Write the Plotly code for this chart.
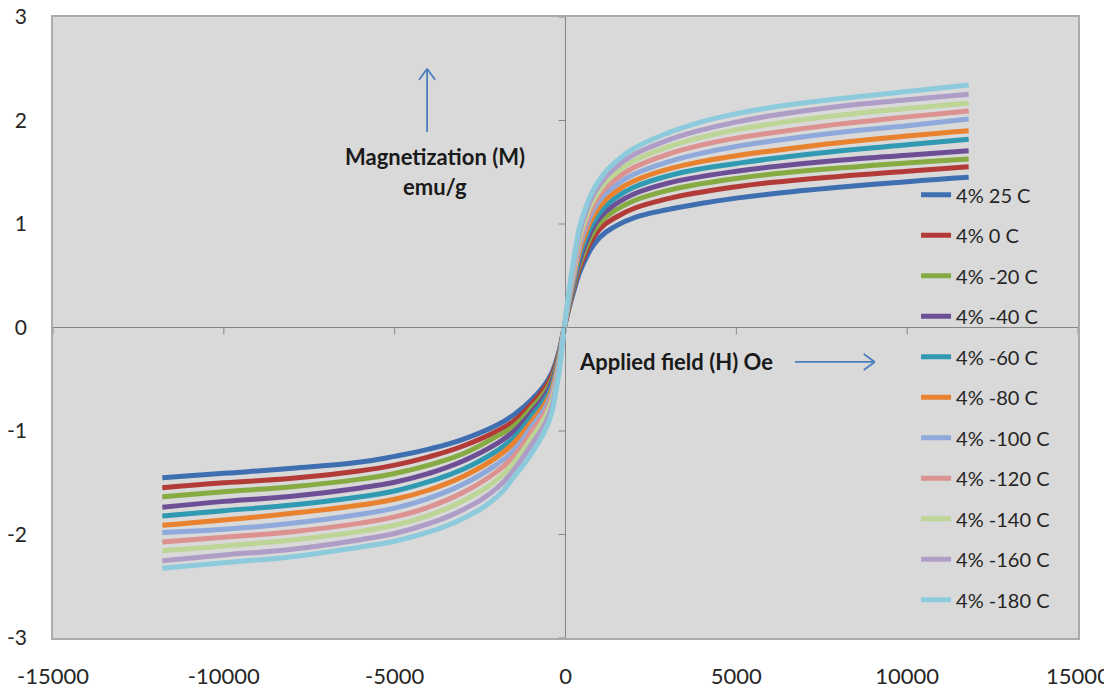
import plotly.graph_objects as go

# Applied field (Oe)
H = [-11800, -10000, -8000, -6000, -5000, -4000, -3000, -2000, -1500, -1000, -500, -250, 0,
     250, 500, 1000, 1500, 2000, 3000, 4000, 5000, 6000, 8000, 10000, 11800]

names = ["4% 25 C", "4% 0 C", "4% -20 C", "4% -40 C", "4% -60 C", "4% -80 C",
         "4% -100 C", "4% -120 C", "4% -140 C", "4% -160 C", "4% -180 C"]

m_25 = [-1.451, -1.409, -1.361, -1.30, -1.245, -1.175, -1.08, -0.942, -0.84, -0.70, -0.50, -0.30, 0.05,
        0.36, 0.60, 0.87, 0.985, 1.06, 1.14, 1.20, 1.25, 1.29, 1.354, 1.409, 1.451]
m_0 = [-1.548, -1.50, -1.457, -1.385, -1.33, -1.25, -1.145, -1.0, -0.90, -0.74, -0.53, -0.32, 0.05,
       0.39, 0.65, 0.95, 1.07, 1.15, 1.245, 1.31, 1.36, 1.40, 1.46, 1.51, 1.554]
m_m20 = [-1.635, -1.586, -1.538, -1.465, -1.41, -1.33, -1.22, -1.05, -0.95, -0.78, -0.57, -0.34, 0.06,
         0.41, 0.69, 1.01, 1.14, 1.225, 1.325, 1.39, 1.44, 1.48, 1.54, 1.59, 1.628]
m_m40 = [-1.737, -1.68, -1.63, -1.55, -1.495, -1.41, -1.29, -1.12, -1.00, -0.82, -0.60, -0.36, 0.06,
         0.43, 0.73, 1.06, 1.20, 1.29, 1.395, 1.46, 1.51, 1.55, 1.615, 1.665, 1.708]
m_m60 = [-1.821, -1.77, -1.715, -1.635, -1.58, -1.49, -1.37, -1.19, -1.06, -0.86, -0.64, -0.38, 0.07,
         0.46, 0.78, 1.11, 1.26, 1.355, 1.465, 1.535, 1.585, 1.63, 1.705, 1.765, 1.818]
m_m80 = [-1.911, -1.86, -1.795, -1.715, -1.66, -1.57, -1.44, -1.25, -1.11, -0.91, -0.68, -0.40, 0.07,
         0.49, 0.83, 1.17, 1.32, 1.415, 1.53, 1.605, 1.66, 1.705, 1.785, 1.85, 1.90]
m_m100 = [-1.98, -1.95, -1.892, -1.805, -1.745, -1.65, -1.515, -1.32, -1.18, -0.96, -0.72, -0.43, 0.08,
          0.52, 0.88, 1.23, 1.38, 1.48, 1.60, 1.685, 1.75, 1.80, 1.885, 1.95, 2.014]
m_m120 = [-2.072, -2.027, -1.973, -1.89, -1.83, -1.735, -1.595, -1.39, -1.24, -1.01, -0.76, -0.46, 0.08,
          0.55, 0.92, 1.28, 1.44, 1.545, 1.675, 1.765, 1.83, 1.88, 1.965, 2.035, 2.092]
m_m140 = [-2.156, -2.111, -2.053, -1.97, -1.91, -1.815, -1.675, -1.47, -1.30, -1.07, -0.80, -0.49, 0.09,
          0.59, 0.97, 1.33, 1.50, 1.61, 1.745, 1.84, 1.91, 1.965, 2.05, 2.115, 2.166]
m_m160 = [-2.253, -2.198, -2.143, -2.05, -1.99, -1.895, -1.76, -1.55, -1.37, -1.135, -0.86, -0.52, 0.09,
          0.63, 1.02, 1.38, 1.555, 1.67, 1.81, 1.91, 1.985, 2.045, 2.135, 2.20, 2.253]
m_m180 = [-2.327, -2.272, -2.214, -2.12, -2.065, -1.975, -1.845, -1.635, -1.44, -1.22, -0.92, -0.56, 0.09,
          0.68, 1.07, 1.43, 1.61, 1.73, 1.88, 1.99, 2.065, 2.125, 2.21, 2.28, 2.343]

series = [m_25, m_0, m_m20, m_m40, m_m60, m_m80, m_m100, m_m120, m_m140, m_m160, m_m180]
colors = ["#3F6FB0", "#B23B38", "#86AB43", "#6D4F96", "#2F9AB2", "#E9822F",
          "#8EA9DA", "#DB9290", "#BDD596", "#AE9DC7", "#8DCBDC"]

x_ticks = [-15000, -10000, -5000, 0, 5000, 10000, 15000]
y_ticks = [-3, -2, -1, 0, 1, 2, 3]

FONT = "Lato"
ARROW = "#4A7EBB"

fig = go.Figure()
for i, (nm, m) in enumerate(zip(names, series)):
    fig.add_trace(go.Scatter(
        x=H, y=m, name=nm, mode="lines",
        line=dict(color=colors[i], width=5, shape="spline", smoothing=1.3),
        legendgroup=f"g{i}",
    ))

shapes = []
for xt in x_ticks:
    shapes.append(dict(type="line", xref="x", yref="y", x0=xt, x1=xt,
                       ysizemode="pixel", yanchor=0, y0=-7, y1=0,
                       line=dict(color="#868686", width=1)))
for yt in y_ticks:
    shapes.append(dict(type="line", xref="x", yref="y", y0=yt, y1=yt,
                       xsizemode="pixel", xanchor=0, x0=-7, x1=0,
                       line=dict(color="#868686", width=1)))

# arrows (shaft + open chevron head)
up_x, up_y0, up_y1 = -4050, 1.89, 2.50
rt_y, rt_x0, rt_x1 = -0.333, 6715, 9052
shapes += [
    dict(type="line", xref="x", yref="y", x0=up_x, x1=up_x, y0=up_y0, y1=up_y1,
         line=dict(color=ARROW, width=1.8)),
    dict(type="line", xref="x", yref="y", xsizemode="pixel", ysizemode="pixel",
         xanchor=up_x, yanchor=up_y1, x0=0, x1=-8, y0=0, y1=-11, line=dict(color=ARROW, width=1.8)),
    dict(type="line", xref="x", yref="y", xsizemode="pixel", ysizemode="pixel",
         xanchor=up_x, yanchor=up_y1, x0=0, x1=8, y0=0, y1=-11, line=dict(color=ARROW, width=1.8)),
    dict(type="line", xref="x", yref="y", x0=rt_x0, x1=rt_x1, y0=rt_y, y1=rt_y,
         line=dict(color=ARROW, width=1.8)),
    dict(type="line", xref="x", yref="y", xsizemode="pixel", ysizemode="pixel",
         xanchor=rt_x1, yanchor=rt_y, x0=0, x1=-11, y0=0, y1=8, line=dict(color=ARROW, width=1.8)),
    dict(type="line", xref="x", yref="y", xsizemode="pixel", ysizemode="pixel",
         xanchor=rt_x1, yanchor=rt_y, x0=0, x1=-11, y0=0, y1=-8, line=dict(color=ARROW, width=1.8)),
]

annotations = [
    dict(x=-3819, y=1.65, xref="x", yref="y", text="<b>Magnetization (M)</b>",
         showarrow=False, font=dict(family=FONT, size=22, color="#1a1a1a"), align="center"),
    dict(x=-3819, y=1.36, xref="x", yref="y", text="<b>emu/g</b>",
         showarrow=False, font=dict(family=FONT, size=22, color="#1a1a1a"), align="center"),
    dict(x=3230, y=-0.333, xref="x", yref="y", text="<b>Applied field (H) Oe</b>",
         showarrow=False, font=dict(family=FONT, size=22, color="#1a1a1a")),
]

fig.update_layout(
    width=1112, height=689,
    margin=dict(l=45, r=42, t=9, b=59, autoexpand=False),
    paper_bgcolor="white",
    plot_bgcolor="#D9D9D9",
    font=dict(family=FONT, size=20, color="#262626"),
    showlegend=True,
    legend=dict(x=0.842, y=0.745, xanchor="left", yanchor="top",
                bgcolor="rgba(0,0,0,0)", font=dict(family=FONT, size=20, color="#262626"),
                tracegroupgap=11.5, traceorder="grouped"),
    shapes=shapes,
    annotations=annotations,
    xaxis=dict(range=[-15000, 15000], tickvals=x_ticks, ticktext=[str(v) for v in x_ticks],
               showgrid=False, zeroline=True, zerolinecolor="#868686", zerolinewidth=1,
               showline=True, mirror=True, linecolor="#ABABAB", linewidth=1.5,
               ticks="", ticklabelstandoff=18, automargin=False, ticklabeloverflow="allow",
               tickfont=dict(family=FONT, size=22)),
    yaxis=dict(range=[-3, 3], tickvals=y_ticks, ticktext=[str(v) for v in y_ticks],
               showgrid=False, zeroline=True, zerolinecolor="#868686", zerolinewidth=1,
               showline=True, mirror=True, linecolor="#ABABAB", linewidth=1.5,
               ticks="", ticklabelstandoff=20, automargin=False, ticklabeloverflow="allow",
               tickfont=dict(family=FONT, size=21)),
)

fig.write_html("out.html")
